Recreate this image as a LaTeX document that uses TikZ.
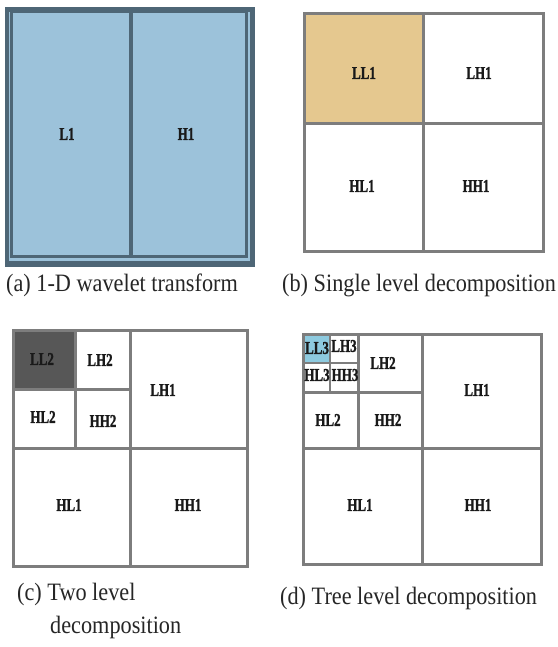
\documentclass[tikz,border=0pt]{standalone}
\usepackage{fontspec}
\setmainfont{Liberation Serif}
\newfontfamily\heavyserif{Liberation Serif Bold}[FakeBold=1.6]
\definecolor{slate}{HTML}{4E6676}
\definecolor{sky}{HTML}{9CC2DA}
\definecolor{gridgray}{HTML}{7D7D7D}
\definecolor{papyrus}{HTML}{E5C88F}
\definecolor{darkfill}{HTML}{575757}
\definecolor{aqua}{HTML}{8DCADF}
% narrow heavy labels inside the sub-bands
\newcommand\bandlbl[1]{\scalebox{0.72}[1]{\fontsize{18}{18}\heavyserif #1}}
% captions under each panel
\newcommand\captxt[1]{\scalebox{0.89}[1]{\fontsize{25}{30}\selectfont #1}}
\begin{document}
\begin{tikzpicture}[x=1pt,y=-1pt,
  band/.style={inner sep=0pt,text=black!90},
  caption/.style={anchor=base west,inner sep=0pt,text=black!85},
  gridline/.style={draw=gridgray,line width=3pt},
  thinline/.style={draw=gridgray,line width=1.5pt}]
\useasboundingbox[fill=white] (0,0) rectangle (557,647);

% (a) 1-D wavelet transform
\fill[slate] (5,7) rectangle (255,267);
\fill[sky] (9,12) rectangle (250,261);
\draw[slate,line width=3pt] (11.5,12) rectangle (246.5,256.5);
\draw[slate,line width=4pt] (131,12) -- (131,256);
\node[band] (L1) at (67,134) {\bandlbl{L1}};
\node[band] (H1) at (186,134) {\bandlbl{H1}};
\node[caption] (capa) at (6,291) {\captxt{(a) 1-D wavelet transform}};

% (b) single level
\fill[papyrus] (304,14) rectangle (423,124);
\draw[gridline] (304,14) rectangle (543,251);
\draw[gridline] (423,14) -- (423,251) (304,124) -- (543,124);
\node[band] (bLL1) at (364,73) {\bandlbl{LL1}};
\node[band] (bLH1) at (479,73) {\bandlbl{LH1}};
\node[band] (bHL1) at (362,186) {\bandlbl{HL1}};
\node[band] (bHH1) at (476,186) {\bandlbl{HH1}};
\node[caption] (capb) at (282,291) {\captxt{(b) Single level decomposition}};

% (c) two level
\fill[darkfill] (13,330) rectangle (75,389);
\draw[gridline] (13,330) rectangle (247,566);
\draw[gridline] (130,330) -- (130,566) (13,448) -- (247,448);
\draw[gridline] (75,330) -- (75,448) (13,389) -- (130,389);
\node[band] (cLL2) at (42,359) {\bandlbl{LL2}};
\node[band] (cLH2) at (100,360) {\bandlbl{LH2}};
\node[band] (cHL2) at (43,417) {\bandlbl{HL2}};
\node[band] (cHH2) at (103,421) {\bandlbl{HH2}};
\node[band] (cLH1) at (163,390) {\bandlbl{LH1}};
\node[band] (cHL1) at (69,505) {\bandlbl{HL1}};
\node[band] (cHH1) at (188,505) {\bandlbl{HH1}};
\node[caption] (capc1) at (17,600) {\captxt{(c) Two level}};
\node[caption] (capc2) at (50,633) {\captxt{decomposition}};

% (d) three level
\fill[aqua] (303,334) rectangle (330,363);
\draw[gridline] (303,334) rectangle (541,564);
\draw[gridline] (422,334) -- (422,564) (303,448) -- (541,448);
\draw[gridline] (358,334) -- (358,448) (303,392) -- (422,392);
\draw[thinline] (330,334) -- (330,392) (303,363) -- (358,363);
\node[band] (dLL3) at (317,348) {\bandlbl{LL3}};
\node[band] (dLH3) at (344,346) {\bandlbl{LH3}};
\node[band] (dHL3) at (317,375) {\bandlbl{HL3}};
\node[band] (dHH3) at (345,375) {\bandlbl{HH3}};
\node[band] (dLH2) at (383,363) {\bandlbl{LH2}};
\node[band] (dHL2) at (328,420) {\bandlbl{HL2}};
\node[band] (dHH2) at (388,420) {\bandlbl{HH2}};
\node[band] (dLH1) at (477,390) {\bandlbl{LH1}};
\node[band] (dHL1) at (360,505) {\bandlbl{HL1}};
\node[band] (dHH1) at (478,505) {\bandlbl{HH1}};
\node[caption] (capd) at (280,604) {\captxt{(d) Tree level decomposition}};
\end{tikzpicture}
\end{document}
